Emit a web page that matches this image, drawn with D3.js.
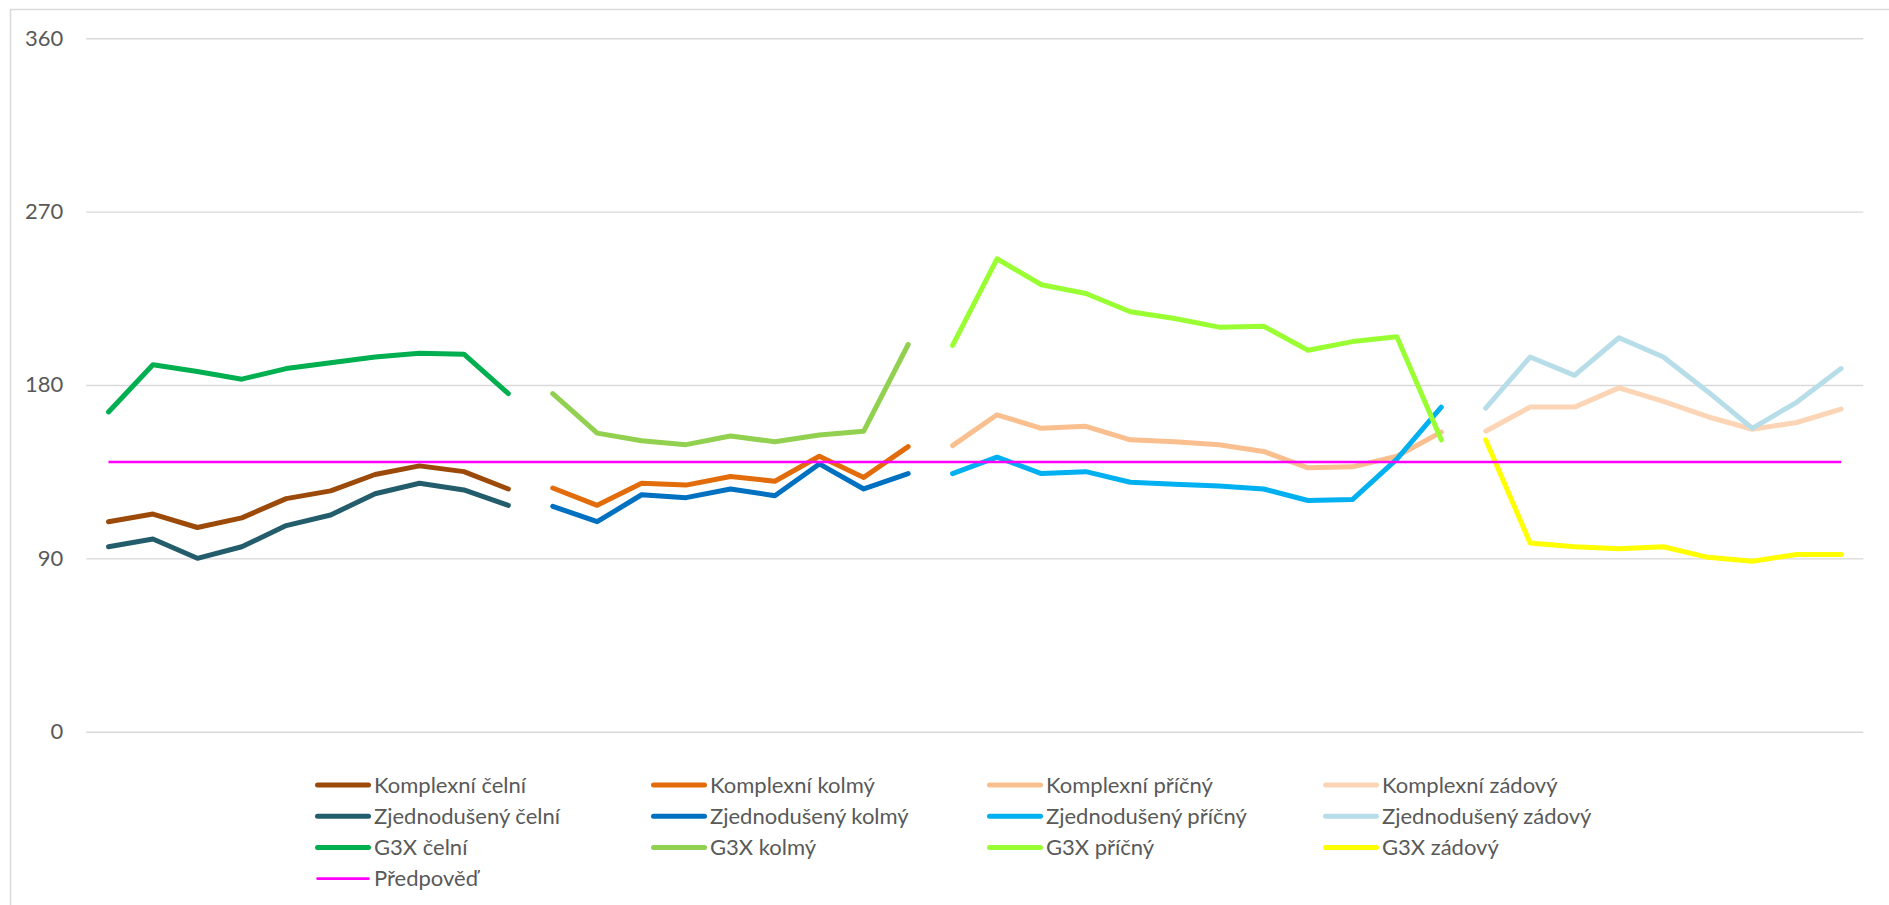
<!DOCTYPE html>
<html>
<head>
<meta charset="utf-8">
<script src="https://cdn.jsdelivr.net/npm/d3@7"></script>
<style>
  body { margin: 0; background: #fff; }
  text { font-family: Lato, "Open Sans", sans-serif; fill: #595959; }
</style>
</head>
<body>
<div id="graph"></div>
<script>
// categories: 40 measurements along the x axis (no labels shown)
let categories = d3.range(1, 41).map(String);

// where each group of measurements starts on the x axis
let celniStart = 0,
  kolmyStart = 10,
  pricnyStart = 19,
  zadovyStart = 31;

// values
let komplexniCelni = [109, 113, 106, 111, 121, 125, 133.5, 138, 135, 126];
let zjednodusenyCelni = [96, 100, 90, 96, 107, 112.5, 123.5, 129, 125.5, 117.5];
let g3xCelni = [166, 190.5, 187, 183, 188.5, 191.5, 194.5, 196.5, 196, 175.5];

let komplexniKolmy = [126.5, 117.5, 129, 128, 132.5, 130, 143, 132, 148];
let zjednodusenyKolmy = [117, 109, 123, 121.5, 126, 122.5, 139, 126, 134];
let g3xKolmy = [175.5, 155, 151, 149, 153.5, 150.5, 154, 156, 201];

let komplexniPricny = [148.5, 164.5, 157.5, 158.5, 151.5, 150.5, 149, 145.5, 137, 137.5, 143, 155.5];
let zjednodusenyPricny = [134, 142.5, 134, 135, 129.5, 128.5, 127.5, 126, 120, 120.5, 141.5, 168.5];
let g3xPricny = [200.5, 245.5, 232, 227.5, 218, 214.5, 210, 210.5, 198, 202.5, 205, 151.5];

let komplexniZadovy = [156, 168.5, 168.5, 178.5, 171.5, 163.5, 157, 160.5, 167.5];
let zjednodusenyZadovy = [168, 194.5, 185, 204.5, 194.5, 176.5, 157.5, 171, 188.5];
let g3xZadovy = [151.5, 98, 96, 95, 96, 90.5, 88.5, 92, 92];

let predpoved = 140;

let yTicks = [0, 90, 180, 270, 360];

// series in legend order (row by row)
let series = [
  { name: "Komplexní čelní", color: "#9C4A0A", start: celniStart, values: komplexniCelni },
  { name: "Komplexní kolmý", color: "#E36C0A", start: kolmyStart, values: komplexniKolmy },
  { name: "Komplexní příčný", color: "#F9BF8F", start: pricnyStart, values: komplexniPricny },
  { name: "Komplexní zádový", color: "#FBD5B5", start: zadovyStart, values: komplexniZadovy },
  { name: "Zjednodušený čelní", color: "#235D6B", start: celniStart, values: zjednodusenyCelni },
  { name: "Zjednodušený kolmý", color: "#0070C0", start: kolmyStart, values: zjednodusenyKolmy },
  { name: "Zjednodušený příčný", color: "#00B0F0", start: pricnyStart, values: zjednodusenyPricny },
  { name: "Zjednodušený zádový", color: "#B7DEE8", start: zadovyStart, values: zjednodusenyZadovy },
  { name: "G3X čelní", color: "#00B050", start: celniStart, values: g3xCelni },
  { name: "G3X kolmý", color: "#92D050", start: kolmyStart, values: g3xKolmy },
  { name: "G3X příčný", color: "#99FF33", start: pricnyStart, values: g3xPricny },
  { name: "G3X zádový", color: "#FFFF00", start: zadovyStart, values: g3xZadovy },
];

let width = 1889,
  height = 905;

let svg = d3
  .select("#graph")
  .append("svg")
  .attr("width", width)
  .attr("height", height);

// chart frame (runs off the right and bottom edge like the picture)
svg
  .append("rect")
  .attr("x", 10.5)
  .attr("y", 9.5)
  .attr("width", 2000)
  .attr("height", 1000)
  .attr("fill", "none")
  .attr("stroke", "#D9D9D9")
  .attr("stroke-width", 1.5);

// scales
let x = d3.scalePoint().domain(categories).range([86.3, 1863.3]).padding(0.5);
let y = d3.scaleLinear().domain([0, 360]).range([731.7, 38.2]);

// grid + y labels
let yAxis = svg
  .append("g")
  .attr("transform", "translate(86.3,0)")
  .call(
    d3.axisLeft(y)
      .tickValues(yTicks)
      .tickSize(-(1863.3 - 86.3))
      .tickPadding(23)
  );
yAxis.select(".domain").remove();
yAxis.selectAll("line").attr("stroke", "#D9D9D9").attr("stroke-width", 1.4);
yAxis
  .selectAll("text")
  .attr("fill", "#595959")
  .style("font-size", "22px")
  .style("font-family", "Lato, 'Open Sans', sans-serif");

// lines
let line = d3
  .line()
  .defined((d) => d.v != null)
  .x((d) => x(categories[d.i]))
  .y((d) => y(d.v));

series.forEach(function (s) {
  let pts = s.values.map((v, k) => ({ i: s.start + k, v: v }));
  svg
    .append("path")
    .datum(pts)
    .attr("d", line)
    .attr("fill", "none")
    .attr("stroke", s.color)
    .attr("stroke-width", 5)
    .attr("stroke-linejoin", "round")
    .attr("stroke-linecap", "round");
});

// forecast line across all categories
svg
  .append("line")
  .attr("x1", x(categories[0]))
  .attr("x2", x(categories[categories.length - 1]))
  .attr("y1", y(predpoved))
  .attr("y2", y(predpoved))
  .attr("stroke", "#FF00FF")
  .attr("stroke-width", 2.6);

// legend, 4 columns
let legendItems = series.map((s) => ({ name: s.name, color: s.color, w: 5 }));
legendItems.push({ name: "Předpověď", color: "#FF00FF", w: 2.6 });

let colX = 315.5,
  colStep = 336,
  rowY = 785,
  rowStep = 31.2;

let legend = svg
  .append("g")
  .selectAll("g")
  .data(legendItems)
  .enter()
  .append("g")
  .attr("transform", function (d, i) {
    return "translate(" + (colX + (i % 4) * colStep) + "," + (rowY + Math.floor(i / 4) * rowStep) + ")";
  });

legend
  .append("line")
  .attr("x1", 2)
  .attr("x2", 53)
  .attr("stroke", (d) => d.color)
  .attr("stroke-width", (d) => d.w)
  .attr("stroke-linecap", "round");

legend
  .append("text")
  .attr("x", 58.5)
  .attr("dy", "0.35em")
  .style("font-size", "22px")
  .text((d) => d.name);
</script>
</body>
</html>
